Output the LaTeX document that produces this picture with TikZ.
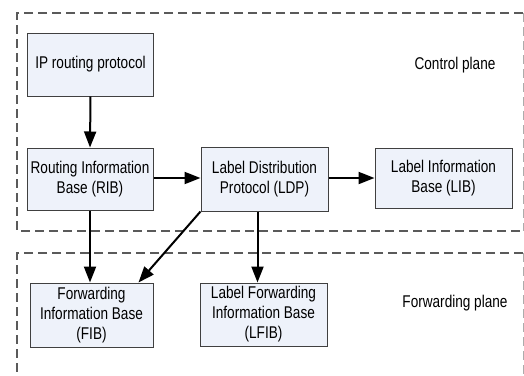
\documentclass[tikz,border=0pt]{standalone}
\usepackage{fontspec}
\setmainfont{Liberation Sans}[FakeStretch=0.8]
\usetikzlibrary{arrows.meta,positioning,calc}
\definecolor{boxfill}{HTML}{EEF2FA}
\definecolor{boxline}{HTML}{404040}
\definecolor{planeline}{HTML}{5A5A5A}

\begin{document}
\begin{tikzpicture}[x=1pt,y=-1pt,
  block/.style={draw=boxline, line width=1pt, fill=boxfill, align=center,
    inner sep=2pt, font=\fontsize{17}{20}\selectfont},
  flow/.style={-{Triangle[length=16pt,width=12pt]}, line width=2pt},
  plane/.style={draw=planeline, line width=1.5pt, dash pattern=on 9pt off 5pt},
  planelabel/.style={font=\fontsize{17}{20}\selectfont}]
  \useasboundingbox (0,0) rectangle (524,375);
  \clip (0,0) rectangle (524,375);

  % Planes
  \draw[plane] (523,13) -- (17,13) -- (17,231) -- (523,231);
  \draw[draw=planeline!50, line width=0.7pt, dash pattern=on 9pt off 5pt] (523,13) -- (523,231);
  \draw[plane] (523,253) -- (17,253) -- (17,380);
  \draw[draw=planeline!50, line width=0.7pt, dash pattern=on 9pt off 5pt] (523,253) -- (523,380);
  \node[planelabel] (ctrl) at (455,65) {Control plane};
  \node[planelabel] (fwd) at (455,303) {Forwarding plane};

  % Control plane blocks
  \node[block, minimum width=126pt, minimum height=63pt] (ip) at (90.5,64.5) {IP routing protocol};
  \node[block, minimum width=126pt, minimum height=62pt] (rib) at (90,179) {Routing Information\\Base (RIB)};
  \node[block, minimum width=127pt, minimum height=64pt] (ldp) at (264.5,179) {Label Distribution\\Protocol (LDP)};
  \node[block, minimum width=137pt, minimum height=60pt] (lib) at (443.5,178) {Label Information\\Base (LIB)};

  % Forwarding plane blocks
  \node[block, minimum width=123pt, minimum height=64pt] (fib) at (91.5,315) {Forwarding\\Information Base\\(FIB)};
  \node[block, minimum width=127pt, minimum height=63pt] (lfib) at (263.5,314.5) {Label Forwarding\\Information Base\\(LFIB)};

  % Connections
  \draw[flow] (ip.south) -- (rib.north);
  \draw[flow] ([yshift=1pt]rib.east) -- ([yshift=1pt]rib.east -| ldp.west);
  \draw[flow] ([yshift=1pt]ldp.east) -- ([yshift=1pt]ldp.east -| lib.west);
  \draw[flow] (rib.south) -- (rib.south |- fib.north);
  \draw[flow] (ldp.south west) -- ([xshift=-15pt]fib.north east);
  \draw[flow] ([xshift=-7pt]ldp.south) -- ([xshift=-7pt]ldp.south |- lfib.north);
\end{tikzpicture}
\end{document}
